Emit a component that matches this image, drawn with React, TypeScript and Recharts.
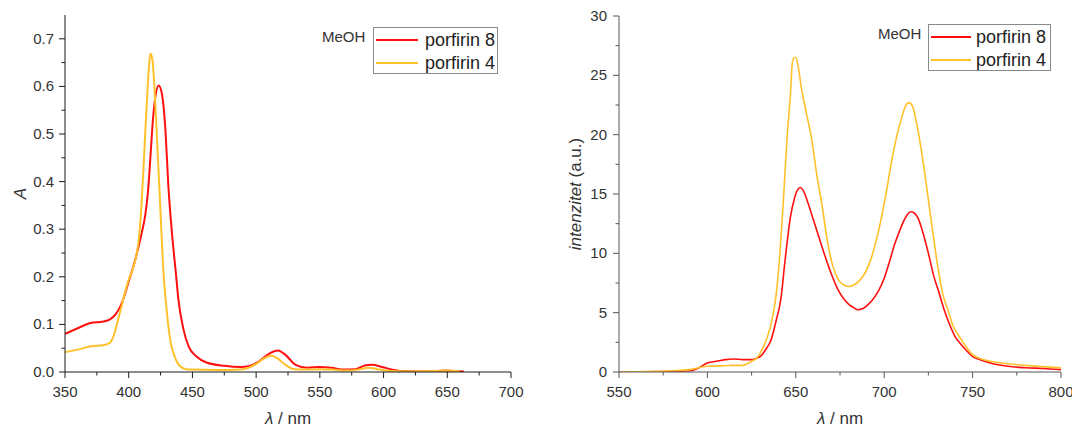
import React from "react";
import { Legend, Line, LineChart, XAxis, YAxis } from "recharts";

// UV-Vis absorption, MeOH
const absWl8 = [350, 360, 370, 380, 385, 390, 396, 400, 405, 410, 413, 415, 417, 419, 421, 423.5, 426, 429, 431, 434, 437, 439, 443, 447, 453, 461, 475, 488, 494, 502, 510, 517, 523, 531, 540, 550, 559, 569, 578, 586, 591, 599, 607, 618, 637, 648, 655, 663];
const abs8 = [0.08, 0.092, 0.103, 0.106, 0.11, 0.122, 0.155, 0.19, 0.235, 0.29, 0.33, 0.375, 0.45, 0.53, 0.58, 0.602, 0.585, 0.5, 0.396, 0.29, 0.208, 0.152, 0.089, 0.054, 0.033, 0.02, 0.013, 0.0105, 0.012, 0.022, 0.038, 0.045, 0.036, 0.015, 0.009, 0.0105, 0.009, 0.005, 0.006, 0.014, 0.015, 0.0105, 0.005, 0.0015, 0.001, 0.003, 0.002, 0.001];
const absWl4 = [350, 360, 370, 380, 385, 388, 391, 395, 400, 403, 406, 408, 410, 412, 414, 416, 417, 418.5, 420, 422, 424.5, 427, 430, 433, 436, 440, 445, 450, 470, 490, 500, 507, 512, 517, 523, 530, 540, 550, 560, 570, 580, 588, 595, 605, 620, 640, 650, 660];
const abs4 = [0.042, 0.047, 0.054, 0.056, 0.061, 0.075, 0.103, 0.145, 0.194, 0.215, 0.245, 0.28, 0.35, 0.45, 0.555, 0.645, 0.669, 0.658, 0.606, 0.5, 0.361, 0.221, 0.124, 0.061, 0.033, 0.013, 0.006, 0.005, 0.004, 0.006, 0.017, 0.03, 0.034, 0.028, 0.015, 0.006, 0.005, 0.006, 0.005, 0.003, 0.005, 0.009, 0.006, 0.002, 0.001, 0.002, 0.003, 0.001];

// fluorescence emission, MeOH
const emWl8 = [550, 580, 590, 595, 598, 600, 605, 610, 615, 620, 625, 628, 630, 633, 636, 639, 641.5, 644, 647, 649, 651, 652.5, 654, 657, 660, 663, 666, 670, 674, 677, 680, 683, 685, 688, 691, 694, 697, 700, 703, 706, 709, 712, 715, 717, 719, 722, 725, 728, 731, 734, 737, 740, 743, 746, 750, 755, 760, 770, 780, 790, 800];
const em8 = [0, 0.05, 0.1, 0.34, 0.6, 0.76, 0.9, 1.04, 1.1, 1.04, 1.04, 1.18, 1.32, 1.9, 2.7, 4.4, 6.1, 9.5, 13.1, 14.5, 15.35, 15.55, 15.35, 14.2, 12.8, 11.4, 10.0, 8.3, 6.9, 6.2, 5.7, 5.4, 5.25, 5.35, 5.7, 6.2, 6.9, 7.9, 9.3, 10.8, 12.0, 13.0, 13.5, 13.4, 13.0, 11.7, 10.0, 8.1, 6.7, 5.2, 4.0, 3.0, 2.4, 1.9, 1.3, 1.0, 0.76, 0.48, 0.36, 0.3, 0.2];
const emWl4 = [550, 580, 590, 600, 610, 615, 620, 625, 628, 631, 634, 637, 639, 641, 643, 645, 647, 648, 649, 650, 651.5, 653, 656, 659, 662, 665, 668, 671, 674, 677, 680, 683, 686, 689, 692, 695, 698, 701, 704, 707, 710, 712, 714, 716, 718, 721, 724, 727, 730, 733, 736, 739, 742, 746, 750, 755, 760, 770, 780, 790, 800];
const em4 = [0, 0.1, 0.2, 0.48, 0.53, 0.56, 0.56, 0.9, 1.18, 1.9, 3.0, 4.7, 6.65, 10.0, 14.5, 19.6, 23.5, 26.0, 26.5, 26.5, 25.6, 24.1, 21.8, 19.6, 16.5, 13.9, 10.9, 8.9, 7.8, 7.35, 7.2, 7.35, 7.7, 8.3, 9.3, 10.8, 12.7, 15.0, 17.6, 19.8, 21.5, 22.4, 22.7, 22.4, 21.2, 18.7, 15.6, 12.3, 9.2, 6.65, 5.25, 3.85, 3.1, 2.2, 1.46, 1.1, 0.9, 0.7, 0.56, 0.45, 0.35];

const absTicksX = [350, 375, 400, 425, 450, 475, 500, 525, 550, 575, 600, 625, 650, 675, 700];
const absTicksY = [0, 0.05, 0.1, 0.15, 0.2, 0.25, 0.3, 0.35, 0.4, 0.45, 0.5, 0.55, 0.6, 0.65, 0.7];
const emTicksX = [550, 575, 600, 625, 650, 675, 700, 725, 750, 775, 800];
const emTicksY = [0, 2.5, 5, 7.5, 10, 12.5, 15, 17.5, 20, 22.5, 25, 27.5, 30];

const series8 = "porfirin 8";
const series4 = "porfirin 4";
const legendOrder = [series8, series4];
const solvent = "MeOH";

const RED = "#ff1010";
const YELLOW = "#ffc12b";
const FONT = "'Liberation Sans', Arial, sans-serif";

const zip = (xs: number[], ys: number[]) => xs.map((x, i) => ({ x, y: ys[i] }));

const isMajor = (v: number, step: number) => Math.abs(v / step - Math.round(v / step)) < 1e-6;

const makeXTick = (step: number, color: string) => (props: any) => {
  const { x, y, payload } = props;
  const major = isMajor(payload.value, step);
  return (
    <g>
      <line x1={x} y1={y} x2={x} y2={y + (major ? 6 : 3.5)} stroke={color} strokeWidth={1} />
      {major && (
        <text x={x} y={y + 25} textAnchor="middle" fontSize={15} fill="#333" fontFamily={FONT}>
          {payload.value}
        </text>
      )}
    </g>
  );
};

const makeYTick = (step: number, digits: number, color: string, gap: number) => (props: any) => {
  const { x, y, payload } = props;
  const major = isMajor(payload.value, step);
  return (
    <g>
      <line x1={x} y1={y} x2={x - (major ? 6 : 3.5)} y2={y} stroke={color} strokeWidth={1} />
      {major && (
        <text x={x - gap} y={y + 5} textAnchor="end" fontSize={15} fill="#333" fontFamily={FONT}>
          {payload.value.toFixed(digits)}
        </text>
      )}
    </g>
  );
};

const xLabel = (props: any) => {
  const { x, width, y } = props.viewBox;
  return (
    <text x={x + width / 2} y={y + 52} textAnchor="middle" fontSize={17} fill="#333" fontFamily={FONT}>
      <tspan fontStyle="italic">λ</tspan> / nm
    </text>
  );
};

const makeLegend = (box: { left: number; top: number; width: number; lineW: number; textX: number }) =>
  (props: any) => {
    const items = [...(props.payload || [])].sort(
      (a: any, b: any) => legendOrder.indexOf(a.value) - legendOrder.indexOf(b.value)
    );
    return (
      <div style={{ position: "relative", width: box.left + box.width + 2, height: 54, fontFamily: FONT, color: "#222" }}>
        <div style={{ position: "absolute", left: 0, top: 4, fontSize: 15, lineHeight: "17px", color: "#333" }}>{solvent}</div>
        <div
          style={{
            position: "absolute",
            left: box.left,
            top: box.top,
            width: box.width,
            height: 47,
            border: "1px solid #8a8a8a",
            boxSizing: "border-box",
          }}
        >
          {items.map((p: any, i: number) => (
            <div key={p.value} style={{ position: "absolute", left: 2, top: 1 + i * 23, height: 22, display: "flex", alignItems: "center" }}>
              <div style={{ width: box.lineW, height: 2, background: p.color }} />
              <div style={{ position: "absolute", left: box.textX, fontSize: 18, lineHeight: "22px", whiteSpace: "nowrap" }}>{p.value}</div>
            </div>
          ))}
        </div>
      </div>
    );
  };

const AbsorptionChart = () => {
  const axisColor = "#1a1a1a";
  return (
    <LineChart width={540} height={430} margin={{ top: 15, right: 29, bottom: 28, left: 5 }}>
      <XAxis
        dataKey="x"
        type="number"
        domain={[350, 700]}
        ticks={absTicksX}
        interval={0}
        allowDataOverflow
        height={30}
        tickSize={0}
        tickMargin={0}
        tickLine={false}
        axisLine={{ stroke: axisColor }}
        tick={makeXTick(50, axisColor)}
        label={xLabel}
      />
      <XAxis xAxisId="frame" orientation="top" type="number" domain={[350, 700]} height={0} tick={false} tickLine={false} axisLine={{ stroke: axisColor }} />
      <YAxis
        type="number"
        domain={[0, 0.75]}
        ticks={absTicksY}
        interval={0}
        allowDataOverflow
        width={60}
        tickSize={0}
        tickMargin={0}
        tickLine={false}
        axisLine={{ stroke: axisColor }}
        tick={makeYTick(0.1, 1, axisColor, 11)}
        label={(props: any) => {
          const { y, height } = props.viewBox;
          const cy = y + height / 2;
          return (
            <text x={26} y={cy} transform={`rotate(-90 26 ${cy})`} textAnchor="middle" fontSize={17} fontStyle="italic" fill="#333" fontFamily={FONT}>
              A
            </text>
          );
        }}
      />
      <YAxis yAxisId="frame" orientation="right" domain={[0, 0.75]} width={0} tick={false} tickLine={false} axisLine={{ stroke: axisColor }} />
      <Legend
        layout="vertical"
        align="center"
        verticalAlign="middle"
        wrapperStyle={{ left: 322, top: 24, width: "auto", height: "auto" }}
        content={makeLegend({ left: 51, top: 3, width: 125, lineW: 42, textX: 49 })}
      />
      <Line data={zip(absWl8, abs8)} dataKey="y" name={series8} type="monotone" stroke={RED} strokeWidth={2} dot={false} isAnimationActive={false} />
      <Line data={zip(absWl4, abs4)} dataKey="y" name={series4} type="monotone" stroke={YELLOW} strokeWidth={2} dot={false} isAnimationActive={false} />
    </LineChart>
  );
};

const EmissionChart = () => {
  const axisColor = "#555";
  return (
    <LineChart width={532} height={430} margin={{ top: 16, right: 11, bottom: 28, left: 19 }}>
      <XAxis
        dataKey="x"
        type="number"
        domain={[550, 800]}
        ticks={emTicksX}
        interval={0}
        allowDataOverflow
        height={30}
        tickSize={0}
        tickMargin={0}
        tickLine={false}
        axisLine={{ stroke: axisColor }}
        tick={makeXTick(50, axisColor)}
        label={xLabel}
      />
      <XAxis xAxisId="frame" orientation="top" type="number" domain={[550, 800]} height={0} tick={false} tickLine={false} axisLine={{ stroke: axisColor }} />
      <YAxis
        type="number"
        domain={[0, 30]}
        ticks={emTicksY}
        interval={0}
        allowDataOverflow
        width={60}
        tickSize={0}
        tickMargin={0}
        tickLine={false}
        axisLine={{ stroke: axisColor }}
        tick={makeYTick(5, 0, axisColor, 12)}
        label={(props: any) => {
          const { y, height } = props.viewBox;
          const cy = y + height / 2;
          return (
            <text x={41} y={cy} transform={`rotate(-90 41 ${cy})`} textAnchor="middle" fontSize={17} fill="#333" fontFamily={FONT}>
              <tspan fontStyle="italic">intenzitet</tspan> (a.u.)
            </text>
          );
        }}
      />
      <YAxis yAxisId="frame" orientation="right" domain={[0, 30]} width={0} tick={false} tickLine={false} axisLine={{ stroke: axisColor }} />
      <Legend
        layout="vertical"
        align="center"
        verticalAlign="middle"
        wrapperStyle={{ left: 338, top: 21, width: "auto", height: "auto" }}
        content={makeLegend({ left: 50, top: 3, width: 123, lineW: 40, textX: 45 })}
      />
      <Line data={zip(emWl8, em8)} dataKey="y" name={series8} type="monotone" stroke={RED} strokeWidth={1.6} dot={false} isAnimationActive={false} />
      <Line data={zip(emWl4, em4)} dataKey="y" name={series4} type="monotone" stroke={YELLOW} strokeWidth={1.6} dot={false} isAnimationActive={false} />
    </LineChart>
  );
};

export default function App() {
  return (
    <div style={{ position: "absolute", left: 0, top: 0, width: 1072, height: 430, background: "#fff", fontFamily: FONT }}>
      <div style={{ position: "absolute", left: 0, top: 0 }}>
        <AbsorptionChart />
      </div>
      <div style={{ position: "absolute", left: 540, top: 0 }}>
        <EmissionChart />
      </div>
    </div>
  );
}
